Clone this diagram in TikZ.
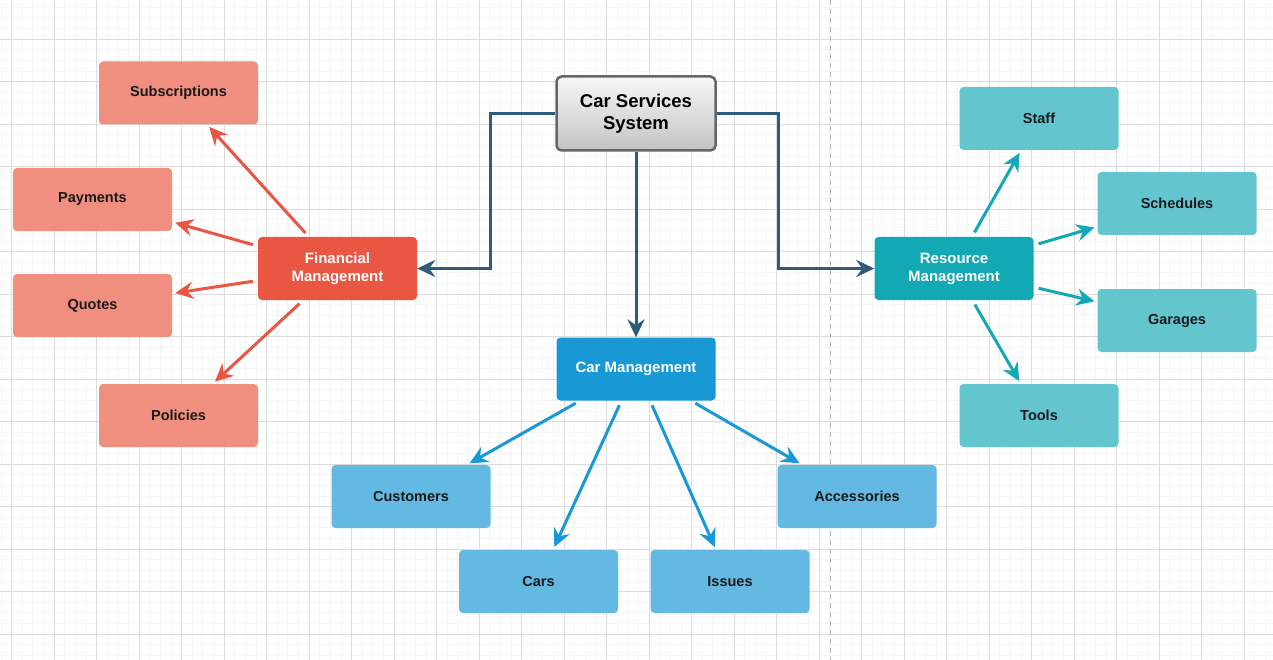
\documentclass[tikz,border=0pt]{standalone}
\usepackage{fontspec}
\setmainfont{Liberation Sans}
\usetikzlibrary{arrows.meta}
\definecolor{gridminor}{HTML}{F4F4F4}
\definecolor{gridmajor}{HTML}{DCDCDC}
\definecolor{finc}{HTML}{E95642}
\definecolor{resc}{HTML}{12A9B5}
\definecolor{carc}{HTML}{1899D5}
\definecolor{finl}{HTML}{F08E80}
\definecolor{resl}{HTML}{63C6CE}
\definecolor{carl}{HTML}{63B9E2}
\definecolor{conn}{HTML}{2F5B7D}
\definecolor{cssborder}{HTML}{666666}
\definecolor{csstop}{HTML}{F7F7F7}
\definecolor{cssbot}{HTML}{C4C4C4}
\definecolor{leaftext}{HTML}{1A1A1A}
\tikzset{
  boxbase/.style={rounded corners=4pt, minimum width=159pt, minimum height=63pt, inner sep=2pt, align=center},
  leafbox/.style={boxbase, text=leaftext, font=\fontsize{14.5}{17}\selectfont\bfseries},
  hubbox/.style={boxbase, text=white, font=\fontsize{15}{18}\selectfont\bfseries},
  rootbox/.style={rounded corners=5pt, minimum width=159pt, minimum height=74pt, draw=cssborder, line width=2.5pt,
    top color=csstop, bottom color=cssbot, text=black, align=center, font=\fontsize{18.5}{22.5}\selectfont\bfseries},
  tipstyle/.style={-{Stealth[length=18pt 0, width=17pt 0, inset=6pt 0]}},
  elbow/.style={draw=conn, line width=3pt, tipstyle},
  spoke/.style={line width=3pt, tipstyle, shorten <=5pt, shorten >=3pt},
  finspoke/.style={spoke, draw=finc},
  resspoke/.style={spoke, draw=resc},
  carspoke/.style={spoke, draw=carc},
  gridmin/.style={draw=gridminor, line width=1pt},
  gridmaj/.style={draw=gridmajor, line width=1pt},
  divider/.style={draw=gray!55, line width=1pt, dash pattern=on 5pt off 4pt}
}
\begin{document}
\begin{tikzpicture}[x=1pt, y=-1pt]
\useasboundingbox (0,0) rectangle (1273,660);
\fill[white] (0,0) rectangle (1273,660);
% grid
\foreach \k in {0,...,119} {\draw[gridmin] ({1.075+\k*10.625},0) -- ++(0,660);}
\foreach \k in {0,...,61} {\draw[gridmin] (0,{7.325+\k*10.625}) -- ++(1273,0);}
\foreach \k in {0,...,29} {\draw[gridmaj] ({11.7+\k*42.5},0) -- ++(0,660);}
\foreach \k in {0,...,14} {\draw[gridmaj] (0,{39.2+\k*42.5}) -- ++(1273,0);}
\draw[divider] (830,0) -- (830,660);

% nodes
\node[rootbox] (css) at (636,113.5) {Car Services\\System};
\node[hubbox, fill=finc] (fin) at (337.5,268.5) {Financial\\Management};
\node[hubbox, fill=resc] (res) at (954,268.5) {Resource\\Management};
\node[hubbox, fill=carc] (cm) at (636,369) {Car Management};

\node[leafbox, fill=finl] (sub) at (178.5,93) {Subscriptions};
\node[leafbox, fill=finl] (pay) at (92.5,199.5) {Payments};
\node[leafbox, fill=finl] (quo) at (92.5,305.5) {Quotes};
\node[leafbox, fill=finl] (pol) at (178.5,415.5) {Policies};

\node[leafbox, fill=resl] (staff) at (1039,118.5) {Staff};
\node[leafbox, fill=resl] (sch) at (1177,203.5) {Schedules};
\node[leafbox, fill=resl] (gar) at (1177,320.5) {Garages};
\node[leafbox, fill=resl] (tools) at (1039,415.5) {Tools};

\node[leafbox, fill=carl] (cust) at (411,496.5) {Customers};
\node[leafbox, fill=carl] (cars) at (538.5,581.5) {Cars};
\node[leafbox, fill=carl] (iss) at (730,581.5) {Issues};
\node[leafbox, fill=carl] (acc) at (857,496.5) {Accessories};

% elbow connectors
\draw[elbow] (css.west) -- ++(-65,0) |- (fin.east);
\draw[elbow] (css.east) -- ++(62,0) |- (res.west);
\draw[elbow] (css.south) -- (cm.north);

% spokes
\draw[finspoke] (fin) -- (sub);
\draw[finspoke] (fin) -- (pay);
\draw[finspoke] (fin) -- (quo);
\draw[finspoke] (fin) -- (pol);

\draw[resspoke] (res) -- (staff);
\draw[resspoke] (res) -- (sch);
\draw[resspoke] (res) -- (gar);
\draw[resspoke] (res) -- (tools);

\draw[carspoke] (cm) -- (cust);
\draw[carspoke] (cm) -- (cars);
\draw[carspoke] (cm) -- (iss);
\draw[carspoke] (cm) -- (acc);
\end{tikzpicture}
\end{document}
